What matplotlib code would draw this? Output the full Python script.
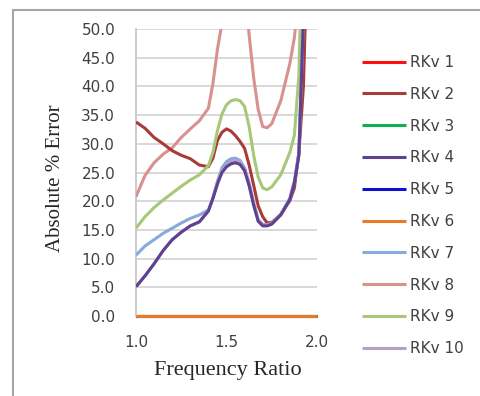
import matplotlib
matplotlib.use("Agg")
import matplotlib.pyplot as plt
from matplotlib.patches import Rectangle

# ---- data ----
freq_ratio = [1.00, 1.05, 1.10, 1.15, 1.20, 1.25, 1.30, 1.35, 1.40, 1.425, 1.45, 1.475,
              1.50, 1.525, 1.55, 1.575, 1.60, 1.625, 1.65, 1.675, 1.70, 1.725, 1.75,
              1.80, 1.85, 1.875, 1.90, 1.925, 1.95, 2.00]

rkv1 = [0.0] * 30
rkv3 = [0.0] * 30
rkv5 = [0.0] * 30
rkv6 = [0.0] * 30
rkv2 = [33.8, 32.7, 31.1, 30.0, 28.8, 28.0, 27.4, 26.3, 26.0, 27.5, 30.6, 32.0,
        32.6, 32.2, 31.4, 30.4, 29.2, 26.3, 22.8, 19.2, 17.3, 16.2, 16.3,
        17.7, 20.1, 22.3, 28.5, 40.0, 68.0, 150.0]
rkv4 = [5.1, 7.0, 9.1, 11.4, 13.3, 14.6, 15.7, 16.4, 18.3, 20.5, 23.0, 25.0,
        26.0, 26.5, 26.7, 26.4, 25.3, 22.7, 19.3, 16.5, 15.7, 15.7, 16.0,
        17.6, 20.3, 23.2, 28.0, 52.0, 80.0, 150.0]
rkv7 = [10.6, 12.2, 13.3, 14.4, 15.3, 16.2, 17.0, 17.6, 18.5, 20.5, 23.5, 25.8,
        26.9, 27.4, 27.5, 27.1, 25.8, 23.2, 19.8, 16.8, 16.0, 15.9, 16.1,
        17.7, 20.5, 23.5, 28.5, 53.0, 80.0, 150.0]
rkv8 = [20.8, 24.5, 26.7, 28.2, 29.3, 31.1, 32.6, 34.0, 36.2, 40.5, 46.5, 51.0,
        57.0, 61.0, 63.0, 62.0, 57.0, 49.0, 41.5, 36.0, 33.0, 32.8, 33.5,
        37.5, 44.0, 48.5, 56.0, 70.0, 90.0, 150.0]
rkv9 = [15.3, 17.3, 18.9, 20.2, 21.4, 22.6, 23.7, 24.6, 26.2, 28.5, 32.3, 35.2,
        36.8, 37.5, 37.7, 37.5, 36.5, 33.0, 28.0, 24.2, 22.3, 22.0, 22.5,
        24.6, 28.5, 31.5, 42.0, 75.0, 100.0, 150.0]
rkv10 = [5.1, 7.0, 9.1, 11.4, 13.3, 14.6, 15.7, 16.4, 18.3, 20.6, 23.2, 25.3,
         26.4, 26.9, 27.1, 26.8, 25.6, 23.0, 19.6, 16.7, 15.9, 15.8, 16.1,
         17.7, 20.4, 23.3, 28.2, 52.0, 80.0, 150.0]

series_names = ["RKv 1", "RKv 2", "RKv 3", "RKv 4", "RKv 5",
                "RKv 6", "RKv 7", "RKv 8", "RKv 9", "RKv 10"]
series_values = [rkv1, rkv2, rkv3, rkv4, rkv5, rkv6, rkv7, rkv8, rkv9, rkv10]
series_colors = ["#FF1010", "#A83A37", "#10B050", "#5F4191", "#1010D0",
                 "#E8782A", "#86AADB", "#D8918F", "#A6C878", "#B3A2C8"]
series_z = [2, 5, 2, 9, 2, 3, 7, 4, 6, 8]

x_ticks = [1.0, 1.5, 2.0]
x_tick_labels = ["1.0", "1.5", "2.0"]
y_ticks = [0, 5, 10, 15, 20, 25, 30, 35, 40, 45, 50]
y_tick_labels = ["%.1f" % v for v in y_ticks]

# ---- figure ----
fig = plt.figure(figsize=(4.8, 3.96), dpi=100)
ax = fig.add_axes([136 / 480, 1 - 316 / 396, 181 / 480, 287 / 396])

for name, vals, col, z in zip(series_names, series_values, series_colors, series_z):
    flat = max(vals) == 0
    ax.plot(freq_ratio, vals, color=col, lw=2.2, label=name, zorder=z,
            solid_capstyle="butt", solid_joinstyle="round", clip_on=not flat)

ax.set_xlim(1.0, 2.0)
ax.set_ylim(0, 50)
ax.set_xticks(x_ticks)
ax.set_xticklabels(x_tick_labels)
ax.set_yticks(y_ticks)
ax.set_yticklabels(y_tick_labels)
ax.tick_params(length=0, labelsize=11, labelcolor="#404040")
ax.tick_params(axis="y", pad=15)
ax.tick_params(axis="x", pad=14)

ax.grid(axis="y", color="#D6D6D6", lw=1.3, zorder=0)
ax.set_axisbelow(True)
for s in ["top", "right", "bottom"]:
    ax.spines[s].set_visible(False)
ax.spines["left"].set_color("#C8C8C8")
ax.spines["left"].set_linewidth(1.3)

ax.set_xlabel("Frequency Ratio", family="Liberation Serif", fontsize=16, color="#262626")
ax.xaxis.label.set_va("center")
ax.xaxis.set_label_coords(0.508, (316 - 370) / 287)
ax.set_ylabel("Absolute % Error", family="Liberation Serif", fontsize=15, color="#262626")
ax.yaxis.label.set_va("center")
ax.yaxis.set_label_coords((56 - 136) / 181, (316 - 178) / 287)

handles, labels = ax.get_legend_handles_labels()
leg = fig.legend(handles, labels, loc="upper left",
                 bbox_to_anchor=(362 / 480, 1 - 55 / 396),
                 bbox_transform=fig.transFigure, frameon=False,
                 borderpad=0, borderaxespad=0, fontsize=11,
                 handlelength=2.9, handletextpad=0.25, labelspacing=1.1)
for t in leg.get_texts():
    t.set_color("#404040")
for l in leg.get_lines():
    l.set_linewidth(2.2)

# outer border of the chart area
fig.patches.append(Rectangle((13 / 480, -0.1), 1.2, 1 - 10 / 396 + 0.1,
                             transform=fig.transFigure, fill=False,
                             edgecolor="#A6A6A6", lw=1.5, clip_on=False))

fig.savefig("out.png", dpi=100)
